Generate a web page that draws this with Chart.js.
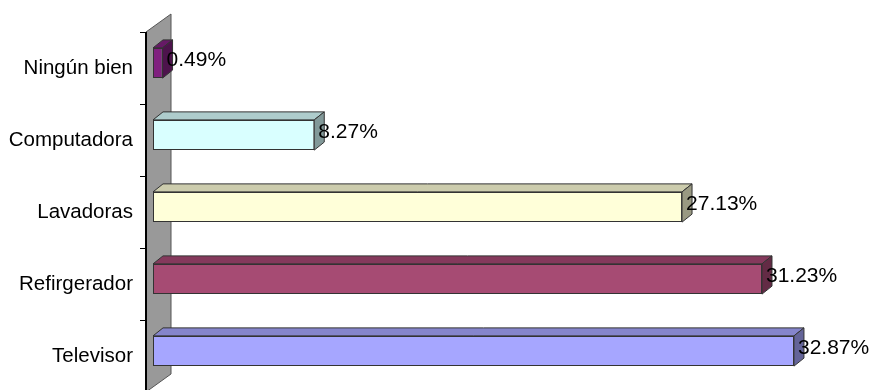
<!DOCTYPE html>
<html>
<head>
<meta charset="utf-8">
<script src="https://cdn.jsdelivr.net/npm/chart.js@4/dist/chart.umd.min.js"></script>
<style>
  html, body { margin: 0; padding: 0; background: #fff; overflow: hidden; }
  #bienes { display: block; }
</style>
</head>
<body>
<canvas id="bienes" width="869" height="394"></canvas>
<script>
var categorias = ["Ningún bien", "Computadora", "Lavadoras", "Refirgerador", "Televisor"];
var porcentajes = [0.49, 8.27, 27.13, 31.23, 32.87];

// caras de las barras (frente, arriba, lado)
var colorFrente = ["#80207f", "#d9ffff", "#ffffd9", "#a64b73", "#a6a6ff"];
var colorArriba = ["#661966", "#aecccc", "#ccccad", "#85395c", "#8585cc"];
var colorLado   = ["#4d134c", "#829999", "#999982", "#632b45", "#646499"];

// profundidad 3D
var paredDX = 25, paredDY = 18;
var barraDX = 7, barraDY = 5;
var caraDX = 10, caraDY = 8;

function poly(ctx, pts, fill, stroke) {
  ctx.beginPath();
  ctx.moveTo(pts[0][0], pts[0][1]);
  for (var i = 1; i < pts.length; i++) ctx.lineTo(pts[i][0], pts[i][1]);
  ctx.closePath();
  ctx.fillStyle = fill;
  ctx.fill();
  ctx.strokeStyle = stroke;
  ctx.lineWidth = 1;
  ctx.stroke();
}

var efecto3d = {
  id: "efecto3d",
  beforeDatasetsDraw: function (chart) {
    var ctx = chart.ctx, a = chart.chartArea;
    ctx.save();
    poly(ctx, [[a.left, a.top], [a.left + paredDX, a.top - paredDY],
               [a.left + paredDX, a.bottom - paredDY], [a.left, a.bottom]], "#999999", "#555555");
    ctx.beginPath();
    ctx.moveTo(a.left, a.top);
    ctx.lineTo(a.left, a.bottom);
    ctx.strokeStyle = "#000";
    ctx.lineWidth = 2;
    ctx.stroke();
    ctx.restore();
  },
  beforeDatasetDraw: function (chart, args) {
    var ctx = chart.ctx;
    ctx.save();
    ctx.translate(barraDX, -barraDY);
    args.meta.data.forEach(function (el, i) {
      var p = el.getProps(["x", "y", "base", "height"], true);
      var t = p.y - p.height / 2, b = p.y + p.height / 2;
      poly(ctx, [[p.base, t], [p.x, t], [p.x + caraDX, t - caraDY], [p.base + caraDX, t - caraDY]],
           colorArriba[i], "#333333");
      poly(ctx, [[p.x, t], [p.x + caraDX, t - caraDY], [p.x + caraDX, b - caraDY], [p.x, b]],
           colorLado[i], "#333333");
    });
  },
  afterDatasetDraw: function (chart, args) {
    var ctx = chart.ctx;
    ctx.restore();
    ctx.save();
    ctx.font = "21px 'Liberation Sans', Arial, sans-serif";
    ctx.fillStyle = "#000";
    ctx.textAlign = "left";
    ctx.textBaseline = "middle";
    args.meta.data.forEach(function (el, i) {
      ctx.fillText(porcentajes[i].toFixed(2) + "%", el.x + barraDX + 4, el.y - barraDY - 3);
    });
    ctx.restore();
  }
};

new Chart(document.getElementById("bienes"), {
  type: "bar",
  data: {
    labels: categorias,
    datasets: [{
      data: porcentajes,
      backgroundColor: colorFrente,
      borderColor: "#333333",
      borderWidth: 1,
      borderSkipped: false,
      categoryPercentage: 0.42,
      barPercentage: 1
    }]
  },
  options: {
    indexAxis: "y",
    responsive: false,
    animation: false,
    layout: { padding: { top: 32, bottom: 2, left: 0, right: 21 } },
    plugins: { legend: { display: false }, tooltip: { enabled: false } },
    scales: {
      x: { display: false, min: 0, max: 36 },
      y: {
        afterFit: function (s) { s.width = 146; s.paddingTop = 0; s.paddingBottom = 0; },
        border: { display: false },
        grid: { offset: true, drawOnChartArea: false, drawTicks: true, tickLength: 6, color: "#000" },
        ticks: { padding: 7, color: "#000", font: { family: "'Liberation Sans', Arial, sans-serif", size: 20.5 } }
      }
    }
  },
  plugins: [efecto3d]
});
</script>
</body>
</html>
